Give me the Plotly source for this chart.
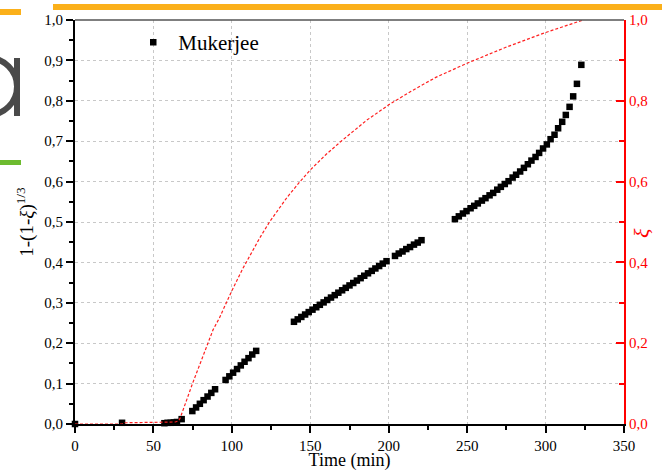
import plotly.graph_objects as go

# ---- data ----
muk_x = [0, 30, 57, 59, 61, 63, 65, 68,
         74.8, 77.2, 79.6, 82.0, 84.5, 86.9, 89.3,
         96.0, 98.4, 100.8, 103.3, 105.7, 108.1, 110.6, 113.0, 115.5,
         139.6, 142.0, 144.3, 146.7, 149.0, 151.4, 153.8, 156.1, 158.5, 160.8,
         163.2, 165.6, 167.9, 170.3, 172.6, 175.0, 177.4, 179.7, 182.1, 184.4,
         186.8, 189.2, 191.5, 193.9, 196.2, 198.6,
         204.0, 206.4, 208.8, 211.2, 213.6, 216.1, 218.5, 220.9,
         242.2, 244.7, 247.3, 249.6, 252.2, 254.5, 256.8, 259.4, 261.7, 264.3,
         266.6, 269.2, 271.5, 274.0, 276.4, 279.0, 281.2, 283.8, 286.2, 288.7,
         291.0, 293.6, 295.9, 298.4, 300.8, 303.2, 305.7, 308.0, 310.6, 312.9,
         315.3, 317.6, 320.0, 322.8]
muk_y = [0.0, 0.003, 0.002, 0.003, 0.003, 0.004, 0.005, 0.012,
         0.032, 0.041, 0.050, 0.059, 0.068, 0.077, 0.086,
         0.109, 0.118, 0.127, 0.136, 0.145, 0.154, 0.163, 0.172, 0.181,
         0.253, 0.259, 0.265, 0.271, 0.277, 0.283, 0.289, 0.295, 0.301, 0.307,
         0.313, 0.319, 0.325, 0.331, 0.337, 0.343, 0.349, 0.355, 0.361, 0.367,
         0.373, 0.379, 0.385, 0.391, 0.397, 0.403,
         0.416, 0.422, 0.427, 0.433, 0.438, 0.444, 0.449, 0.455,
         0.507, 0.514, 0.521, 0.527, 0.534, 0.540, 0.546, 0.553, 0.559, 0.566,
         0.572, 0.580, 0.587, 0.594, 0.601, 0.610, 0.617, 0.625, 0.634, 0.643,
         0.652, 0.661, 0.671, 0.682, 0.692, 0.705, 0.716, 0.732, 0.748, 0.765,
         0.785, 0.811, 0.842, 0.889]

xi_x = [0, 30, 31, 64, 66, 67, 75, 88, 92, 100, 107, 118, 124, 135, 143, 150,
        160, 170, 186, 200, 214, 230, 250, 275, 300, 324]
xi_y = [0, 0, 0.003, 0.005, 0.008, 0.014, 0.101, 0.233, 0.262, 0.330, 0.385,
        0.462, 0.500, 0.560, 0.598, 0.629, 0.667, 0.701, 0.752, 0.790, 0.823,
        0.858, 0.893, 0.933, 0.969, 1.0]

x_ticks = [0, 50, 100, 150, 200, 250, 300, 350]

# ---- figure ----
W, H = 662, 471
L, R, T, B = 75, 624, 20, 424


def px(xp):
    return (xp - L) / (R - L)


def py(yp):
    return (B - yp) / (B - T)


FONT = "Liberation Serif"

fig = go.Figure()
fig.add_trace(go.Scatter(
    x=xi_x, y=xi_y, yaxis="y2", mode="lines", showlegend=False,
    line=dict(color="#ff2020", width=1.2, dash="3px,2px"),
))
fig.add_trace(go.Scatter(
    x=muk_x, y=muk_y, mode="markers", name="Mukerjee", cliponaxis=False,
    marker=dict(symbol="square", size=6.5, color="black"),
))

fig.update_layout(
    width=W, height=H,
    margin=dict(l=L, r=W - R, t=T, b=H - B, autoexpand=False),
    paper_bgcolor="white", plot_bgcolor="white",
    separators=",.",
    font=dict(family=FONT, size=15, color="black"),
    showlegend=True,
    legend=dict(x=0.097, y=0.995, xanchor="left", yanchor="top",
                bgcolor="rgba(0,0,0,0)", font=dict(size=21, family=FONT),
                itemwidth=40),
    xaxis=dict(
        range=[0, 350], tickvals=x_ticks, ticks="outside", ticklen=7,
        tickwidth=1.5, tickcolor="black", automargin=False,
        minor=dict(dtick=25, ticks="outside", ticklen=4, tickcolor="black",
                   showgrid=False),
        showline=True, linecolor="black", linewidth=2,
        showgrid=True, gridcolor="#c8c8c8", griddash="dot", gridwidth=1,
        zeroline=False,
        title=dict(text="Time (min)", font=dict(size=18, family=FONT),
                   standoff=3),
        tickfont=dict(size=15, family=FONT),
    ),
    yaxis=dict(
        range=[0, 1], dtick=0.1, tickformat=".1f", ticks="outside", ticklen=7,
        tickwidth=1.5, tickcolor="black", automargin=False,
        minor=dict(dtick=0.05, ticks="outside", ticklen=4, tickcolor="black",
                   showgrid=False),
        showline=True, linecolor="black", linewidth=2,
        showgrid=True, gridcolor="#c8c8c8", griddash="dot", gridwidth=1,
        zeroline=False,
        title=dict(text="1-(1-<i>ξ</i>)<sup>1/3</sup>",
                   font=dict(size=19, family=FONT), standoff=6),
        tickfont=dict(size=15, family=FONT),
    ),
    yaxis2=dict(
        overlaying="y", side="right", range=[0, 1], dtick=0.2,
        tickformat=".1f", ticks="inside", ticklen=8, tickwidth=1.5,
        tickcolor="red", automargin=False,
        minor=dict(dtick=0.1, ticks="inside", ticklen=5, tickcolor="red",
                   showgrid=False),
        showline=True, linecolor="red", linewidth=2,
        showgrid=False, zeroline=False,
        tickfont=dict(size=15, color="red", family=FONT),
    ),
    annotations=[
        dict(text="<i>ξ</i>", xref="paper", yref="paper", x=px(641),
             y=py(233), xanchor="center", yanchor="middle",
             showarrow=False, textangle=-90,
             font=dict(size=22, color="red", family=FONT)),
    ],
)

shapes = [
    # top frame line (gray)
    dict(type="line", xref="paper", yref="paper", x0=0, x1=1, y0=1, y1=1,
         line=dict(color="#555555", width=1.5)),
    # page decorations visible in the screenshot
    dict(type="rect", xref="paper", yref="paper", x0=px(53), x1=px(662),
         y0=py(10), y1=py(4), fillcolor="#fbb01a", line=dict(width=0),
         layer="above"),
    dict(type="rect", xref="paper", yref="paper", x0=px(0), x1=px(21),
         y0=py(15), y1=py(9), fillcolor="#fbb01a", line=dict(width=0)),
    dict(type="rect", xref="paper", yref="paper", x0=px(0), x1=px(21),
         y0=py(165), y1=py(160), fillcolor="#6dbb2f", line=dict(width=0)),
    dict(type="circle", xref="paper", yref="paper", x0=px(-40), x1=px(17),
         y0=py(115), y1=py(58), line=dict(color="#4a4a4a", width=6)),
    dict(type="line", xref="paper", yref="paper", x0=px(17), x1=px(17),
         y0=py(116), y1=py(58), line=dict(color="#4a4a4a", width=6)),
]
fig.update_layout(shapes=shapes)

fig.write_html(
    "out.html",
    config={"displayModeBar": False},
    post_script="document.body.style.margin='0';"
                "document.body.style.overflow='hidden';",
)
